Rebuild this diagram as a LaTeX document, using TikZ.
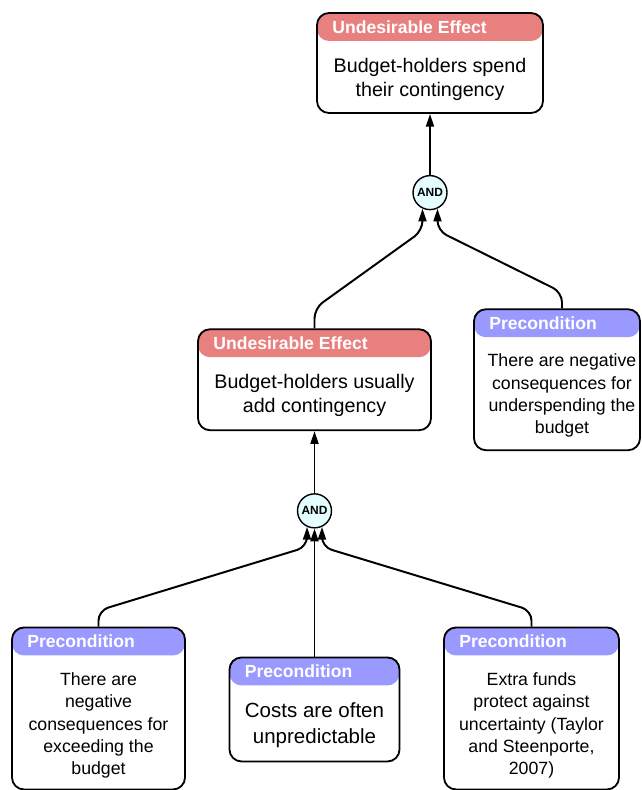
\documentclass[tikz,border=0pt]{standalone}
\usepackage{fontspec}
\setmainfont{Liberation Sans}
\usetikzlibrary{arrows.meta, positioning, shapes}

\definecolor{uered}{RGB}{232,128,128}
\definecolor{prepurple}{RGB}{153,153,255}
\definecolor{andfill}{RGB}{228,253,255}

\begin{document}
\begin{tikzpicture}[
    box/.style={draw, rounded corners=0.3cm, line width=1.3pt, fill=white},
    effect/.style={box, path picture={\fill[uered] (path picture bounding box.north west)
      rectangle ([yshift=-0.7cm]path picture bounding box.north east);}},
    precond/.style={box, path picture={\fill[prepurple] (path picture bounding box.north west)
      rectangle ([yshift=-0.7cm]path picture bounding box.north east);}},
    heading/.style={anchor=west, inner sep=0pt, xshift=0.4cm, yshift=-0.37cm,
      text=white, font=\fontsize{12.5pt}{15pt}\selectfont\bfseries},
    bodytext/.style={align=center, inner sep=0pt, yshift=-0.4cm,
      font=\fontsize{14pt}{17pt}\selectfont},
    smalltext/.style={bodytext, font=\fontsize{12.6pt}{15.9pt}\selectfont},
    andgate/.style={draw, circle, fill=andfill, line width=1pt, inner sep=0pt,
      minimum size=0.85cm, font=\fontsize{8.5pt}{10pt}\selectfont\bfseries},
    link/.style={line width=1.4pt, rounded corners=0.25cm,
      -{Triangle[length=0.32cm, width=0.2cm]}}
    ]
    \useasboundingbox (0,0) rectangle (16.025,-19.75);

    \node[effect, minimum width=5.65cm, minimum height=2.5cm]   (spend)  at (10.75,-1.575) {};
    \node[andgate] (and1) [below=1.525cm of spend]                 {AND};

    \node[effect, minimum width=5.825cm, minimum height=2.525cm] (add)
      [below=2.95cm of and1, xshift=-2.8875cm] {};
    \node[precond, minimum width=4.15cm, minimum height=3.525cm] (under)
      [below=2.45cm of and1, xshift=3.175cm]    {};

    \node[andgate] (and2) [below=1.55cm of add]                    {AND};

    \node[precond, minimum width=4.325cm, minimum height=4.05cm] (exceed)
      [below=2.45cm of and2, xshift=-5.4cm]     {};
    \node[precond, minimum width=4.25cm, minimum height=2.6cm]   (costs)
      [below=3.2cm of and2]                     {};
    \node[precond, minimum width=4.375cm, minimum height=4.05cm] (extra)
      [below=2.45cm of and2, xshift=5.425cm]    {};

    % headings
    \node[heading] (spend-h)  at (spend.north west)  {Undesirable Effect};
    \node[heading] (add-h)    at (add.north west)    {Undesirable Effect};
    \node[heading] (under-h)  at (under.north west)  {Precondition};
    \node[heading] (exceed-h) at (exceed.north west) {Precondition};
    \node[heading] (costs-h)  at (costs.north west)  {Precondition};
    \node[heading] (extra-h)  at (extra.north west)  {Precondition};

    % texts
    \node[bodytext] (spend-t) at (spend.center) {Budget-holders spend\\their contingency};
    \node[bodytext] (add-t)   at (add.center)   {Budget-holders usually\\add contingency};
    \node[smalltext, xshift=0.125cm] (under-t) at (under.center)
      {There are negative\\consequences for\\underspending the\\budget};
    \node[smalltext, yshift=-0.03cm] (exceed-t) at (exceed.center)
      {There are\\negative\\consequences for\\exceeding the\\budget};
    \node[bodytext, font=\fontsize{14.6pt}{18.5pt}\selectfont] (costs-t) at (costs.center)
      {Costs are often\\unpredictable};
    \node[smalltext, yshift=-0.03cm] (extra-t) at (extra.center)
      {Extra funds\\protect against\\uncertainty (Taylor\\and Steenporte,\\2007)};

    \draw[link] (and1.north) -- (spend.south);
    \draw[link] (and2.north) -- (add.south);
    \draw[link] (costs.north) -- (and2.south);
    \draw[link] (add.north) -- ++(0,0.5) -- ([yshift=-0.55cm]and1.245) -- (and1.245);
    \draw[link] ([xshift=0.125cm]under.north) -- ++(0,0.4)
      -- ([yshift=-0.55cm]and1.295) -- (and1.295);
    \draw[link] (exceed.north) -- ++(0,0.4) -- ([yshift=-0.5cm]and2.245) -- (and2.245);
    \draw[link] (extra.north) -- ++(0,0.4) -- ([yshift=-0.5cm]and2.295) -- (and2.295);
\end{tikzpicture}
\end{document}
